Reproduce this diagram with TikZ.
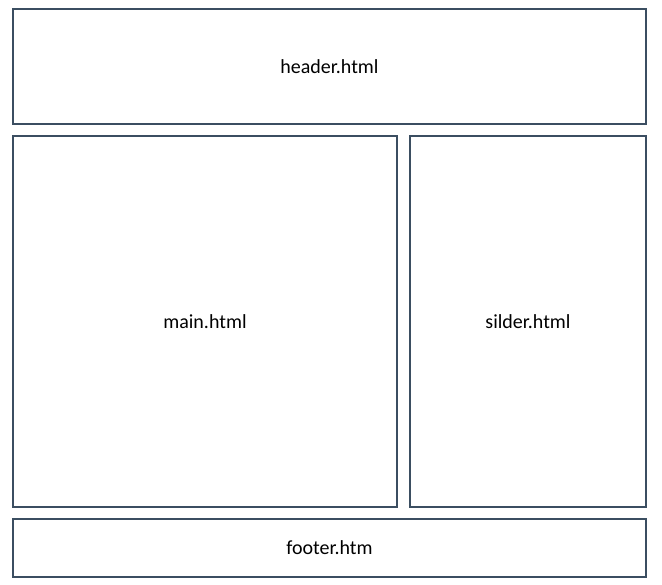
\documentclass[tikz,border=0pt]{standalone}
\usepackage{fontspec}
\setmainfont{Carlito}
\definecolor{boxline}{RGB}{59,78,97}
\tikzset{part/.style={draw=boxline,line width=2pt,fill=white,inner sep=0pt,font=\fontsize{20}{24}\selectfont}}
\begin{document}
\begin{tikzpicture}[line join=miter,x=1pt,y=-1pt]
		\useasboundingbox[fill=white] (0,0) rectangle (662,585);
		\node[part,minimum width=633pt,minimum height=115pt] (header) at (329.5,66.5) {header.html};
		\node[part,minimum width=384pt,minimum height=371pt] (main) at (205,321.5) {main.html};
		\node[part,minimum width=236pt,minimum height=371pt] (silder) at (528,321.5) {silder.html};
		\node[part,minimum width=633pt,minimum height=58pt] (footer) at (329.5,548) {footer.htm};
	\end{tikzpicture}
\end{document}
